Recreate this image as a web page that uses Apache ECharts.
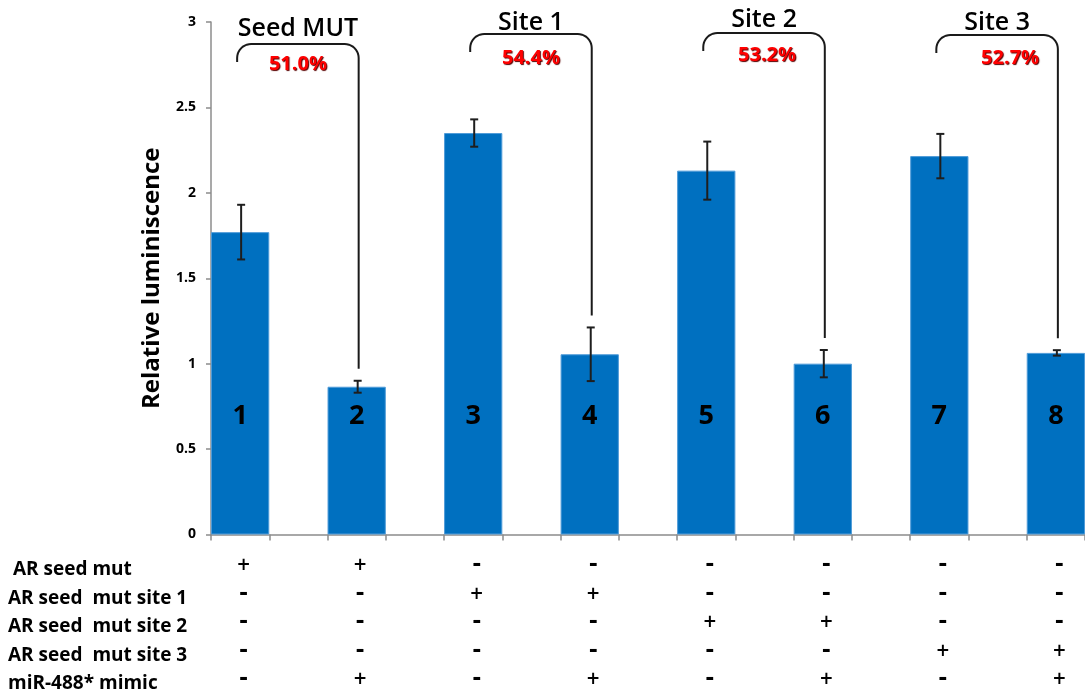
<!DOCTYPE html>
<html>
<head>
<meta charset="utf-8">
<script src="https://cdn.jsdelivr.net/npm/echarts@6/dist/echarts.min.js"></script>
<style>
  html, body { margin: 0; padding: 0; background: #fff; }
  #chart { width: 1085px; height: 694px; }
</style>
</head>
<body>
<div id="chart"></div>
<script>
// Luciferase readout per construct (bar numbers 1-8)
const barLabels = ['1', '2', '3', '4', '5', '6', '7', '8'];
const relLum = [1.77, 0.865, 2.35, 1.055, 2.13, 1.0, 2.215, 1.063];
const errSD = [0.16, 0.035, 0.08, 0.157, 0.17, 0.08, 0.13, 0.016];

// Y axis ticks
const yTicks = [0, 0.5, 1, 1.5, 2, 2.5, 3];

// Transfection table beneath the bars
const rowLabels = ['AR seed mut', 'AR seed  mut site 1', 'AR seed  mut site 2', 'AR seed  mut site 3', 'miR-488* mimic'];
const rowMarks = [
  ['+', '+', '-', '-', '-', '-', '-', '-'],
  ['-', '-', '+', '+', '-', '-', '-', '-'],
  ['-', '-', '-', '-', '+', '+', '-', '-'],
  ['-', '-', '-', '-', '-', '-', '+', '+'],
  ['-', '+', '-', '+', '-', '+', '-', '+']
];

// Paired comparisons: [control bar, mimic bar]
const groupTitles = ['Seed MUT', 'Site 1', 'Site 2', 'Site 3'];
const groupPairs = [[0, 1], [2, 3], [4, 5], [6, 7]];
const reductions = ['51.0%', '54.4%', '53.2%', '52.7%'];

// Layout settings (pixels)
const bracketTopPx = [44, 34, 33, 35];
const titleYPx = [28.5, 23, 19.5, 23];
const pctYPx = [64, 58, 55.5, 58.5];
const pctXShift = [0, 0, 3, 13];
const ROW_H = 28.5;

// Each bar sits in every other slot so ticks fall on both bar edges
const nSlots = barLabels.length * 2 - 1;
const slots = Array.from({ length: nSlots }, (_, i) => String(i));
const barData = slots.map((_, i) => (i % 2 === 0 ? relLum[i / 2] : '-'));
const errData = relLum.map((v, k) => [k * 2, v - errSD[k], v + errSD[k]]);

const chart = echarts.init(document.getElementById('chart'));

const FONT = '"Open Sans", "Noto Sans", sans-serif';
const MARK_FONT = '"DejaVu Sans", sans-serif';

chart.setOption({
  animation: false,
  backgroundColor: '#ffffff',
  grid: { left: 211, right: -1, top: 22, bottom: 155 },
  xAxis: {
    type: 'category',
    data: slots,
    boundaryGap: true,
    axisLine: { lineStyle: { color: '#8c8c8c', width: 1.5 } },
    axisTick: { show: true, length: 6, lineStyle: { color: '#8c8c8c', width: 1.5 } },
    axisLabel: {
      interval: 0,
      margin: 17,
      fontFamily: MARK_FONT,
      fontWeight: 'bold',
      fontSize: 17,
      lineHeight: ROW_H,
      color: '#000',
      padding: [0, 0, 0, 7],
      rich: {
        p: { fontFamily: MARK_FONT, fontWeight: 'bold', fontSize: 17, lineHeight: ROW_H, color: '#000' },
        d: { fontFamily: MARK_FONT, fontWeight: 'bold', fontSize: 22, lineHeight: ROW_H, color: '#000' }
      },
      formatter: (val, idx) => (idx % 2 === 0
        ? rowMarks.map(r => (r[idx / 2] === '+' ? '{p|+}' : '{d|-}')).join('\n')
        : '')
    },
    splitLine: { show: false }
  },
  yAxis: {
    type: 'value',
    min: 0,
    max: 3,
    interval: 0.5,
    name: 'Relative luminiscence',
    nameLocation: 'middle',
    nameGap: 47,
    nameTextStyle: { fontFamily: FONT, fontWeight: 'bold', fontSize: 24, color: '#000' },
    axisLine: { show: true, lineStyle: { color: '#8c8c8c', width: 1.5 } },
    axisTick: { show: true, length: 5, lineStyle: { color: '#8c8c8c', width: 1.5 } },
    axisLabel: {
      margin: 15,
      fontFamily: FONT,
      fontWeight: 'bold',
      fontSize: 14,
      color: '#000',
      formatter: v => (yTicks.includes(v) ? String(v) : '')
    },
    splitLine: { show: false }
  },
  series: [
    {
      type: 'bar',
      data: barData,
      barCategoryGap: '0%',
      itemStyle: { color: '#0070C0', borderColor: '#4f9bd8', borderWidth: 1 },
      label: {
        show: true,
        position: 'insideBottom',
        distance: 105,
        fontFamily: FONT,
        fontWeight: 'bold',
        fontSize: 27,
        color: '#000',
        formatter: p => barLabels[p.dataIndex / 2]
      },
      z: 2
    },
    {
      type: 'custom',
      data: errData,
      z: 5,
      renderItem: (params, api) => {
        const x = api.value(0);
        const lo = api.coord([x, api.value(1)]);
        const hi = api.coord([x, api.value(2)]);
        const cx = lo[0] + 1;
        const cap = 4;
        const style = { stroke: '#1e1e1e', lineWidth: 2 };
        return {
          type: 'group',
          children: [
            { type: 'line', shape: { x1: cx, y1: lo[1], x2: cx, y2: hi[1] }, style },
            { type: 'line', shape: { x1: cx - cap, y1: lo[1], x2: cx + cap, y2: lo[1] }, style },
            { type: 'line', shape: { x1: cx - cap, y1: hi[1], x2: cx + cap, y2: hi[1] }, style }
          ]
        };
      }
    }
  ]
});

// Quarter-circle corner as a list of points
function corner(cx, cy, rad, a0, a1) {
  const pts = [];
  const n = 10;
  for (let k = 0; k <= n; k++) {
    const a = a0 + (a1 - a0) * k / n;
    pts.push([cx + rad * Math.cos(a), cy + rad * Math.sin(a)]);
  }
  return pts;
}

// Brackets, group titles, reduction percentages and table row labels
const graphics = [];
const r = 14;
groupPairs.forEach(([a, b], g) => {
  const L = chart.convertToPixel({ xAxisIndex: 0 }, a * 2) - 3;
  const R = chart.convertToPixel({ xAxisIndex: 0 }, b * 2) + 2;
  const top = bracketTopPx[g];
  const yb = top + 18;
  const ye = chart.convertToPixel({ yAxisIndex: 0 }, relLum[b] + errSD[b]) - 12;
  const mid = (L + R) / 2;
  const pts = [[L, yb]]
    .concat(corner(L + r, top + r, r, Math.PI, 1.5 * Math.PI))
    .concat(corner(R - r, top + r, r, 1.5 * Math.PI, 2 * Math.PI))
    .concat([[R, ye]]);
  graphics.push({
    type: 'polyline',
    shape: { points: pts },
    style: { fill: null, stroke: '#1a1a1a', lineWidth: 2 },
    z: 10
  });
  graphics.push({
    type: 'text',
    x: mid,
    y: titleYPx[g],
    style: {
      text: groupTitles[g],
      font: `600 25px ${FONT}`,
      fill: '#000',
      textAlign: 'center',
      textVerticalAlign: 'middle'
    },
    z: 10
  });
  graphics.push({
    type: 'text',
    x: mid + pctXShift[g],
    y: pctYPx[g],
    style: {
      text: reductions[g],
      font: `bold 20px ${FONT}`,
      fill: '#ff0000',
      textAlign: 'center',
      textVerticalAlign: 'middle',
      textShadowColor: '#5a0000',
      textShadowOffsetX: 1,
      textShadowOffsetY: 1,
      textShadowBlur: 1
    },
    z: 10
  });
});

rowLabels.forEach((t, i) => {
  graphics.push({
    type: 'text',
    x: i === 0 ? 13 : 8,
    y: 570 + i * ROW_H,
    style: {
      text: t,
      font: `bold 19px ${FONT}`,
      fill: '#000',
      textAlign: 'left',
      textVerticalAlign: 'middle'
    },
    z: 10
  });
});

chart.setOption({ graphic: graphics });
</script>
</body>
</html>
